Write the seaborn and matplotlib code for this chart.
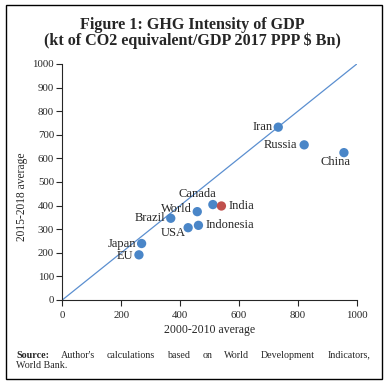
import matplotlib
matplotlib.use("Agg")
import matplotlib.pyplot as plt
import pandas as pd
import seaborn as sns
from matplotlib.patches import Rectangle

# data
countries = ["Iran", "Russia", "China", "Canada", "India", "World", "Brazil",
             "Indonesia", "USA", "Japan", "EU"]
avg_2000_2010 = [733, 821, 956, 511, 540, 458, 368, 462, 427, 269, 260]
avg_2015_2018 = [732, 657, 624, 404, 398, 374, 346, 316, 306, 239, 191]
diag = [0, 1000]
ticks = [0, 100, 200, 300, 400, 500, 600, 700, 800, 900, 1000]
xticks = [0, 200, 400, 600, 800, 1000]

df = pd.DataFrame({"country": countries, "x": avg_2000_2010, "y": avg_2015_2018})
df["grp"] = ["India" if c == "India" else "Other" for c in countries]

sns.set_style("ticks")
plt.rcParams["font.family"] = ["Liberation Serif", "DejaVu Serif"]

fig = plt.figure(figsize=(3.85, 3.85), dpi=100)
ax = fig.add_axes([0.162, 0.221, 0.765, 0.613])

sns.lineplot(x=diag, y=diag, ax=ax, color="#5b8fd0", linewidth=0.9)
sns.scatterplot(data=df, x="x", y="y", hue="grp", ax=ax, s=45, linewidth=0,
                palette={"Other": "#4a86c8", "India": "#c0504d"}, legend=False, zorder=3)

# label offsets (points)
offs = {"Iran": (-4, 0, "right", "center"), "Russia": (-5, 0, "right", "center"),
        "China": (-6, -7, "center", "center"), "Canada": (-11, 3, "center", "bottom"),
        "India": (5, 0, "left", "center"), "World": (-4, 2, "right", "center"),
        "Brazil": (-4, 0, "right", "center"), "Indonesia": (5, 0, "left", "center"),
        "USA": (-2, -4, "right", "center"), "Japan": (-4, 0, "right", "center"),
        "EU": (-4, -1, "right", "center")}
for c, xv, yv in zip(countries, avg_2000_2010, avg_2015_2018):
    dx, dy, ha, va = offs[c]
    ax.annotate(c, (xv, yv), xytext=(dx, dy), textcoords="offset points",
                ha=ha, va=va, fontsize=9)

ax.set_xlim(0, 1000)
ax.set_ylim(0, 1000)
ax.set_xticks(xticks)
ax.set_yticks(ticks)
ax.tick_params(labelsize=7.8, length=4, width=0.8, pad=2)
ax.tick_params(axis="x", pad=4)
ax.set_xlabel("2000-2010 average", fontsize=8.5, labelpad=3)
ax.set_ylabel("")
sns.despine(ax=ax)
for s in ["left", "bottom"]:
    ax.spines[s].set_linewidth(0.8)

fig.text(0.057, 0.49, "2015-2018 average", rotation=90, ha="center", va="center", fontsize=8.3)

fig.text(0.5, 0.935, "Figure 1: GHG Intensity of GDP", ha="center", va="center",
         fontsize=11.6, fontweight="bold")
fig.text(0.5, 0.893, "(kt of CO2 equivalent/GDP 2017 PPP $ Bn)", ha="center", va="center",
         fontsize=11.6, fontweight="bold")

# justified source line
fig.canvas.draw()
r = fig.canvas.get_renderer()
words = [("Source:", "bold")] + [(w, "normal") for w in
         "Author's calculations based on World Development Indicators,".split()]
x0, x1, yline = 16 / 385, 370 / 385, 1 - 355 / 385
objs = [fig.text(0, yline, w, fontsize=7.2, fontweight=fw, va="center") for w, fw in words]
widths = [o.get_window_extent(r).width / fig.bbox.width for o in objs]
gap = (x1 - x0 - sum(widths)) / (len(objs) - 1)
xp = x0
for o, w in zip(objs, widths):
    o.set_x(xp)
    xp += w + gap
fig.text(x0, 1 - 366 / 385, "World Bank.", fontsize=7.2, va="center")

fig.patches.append(Rectangle((6 / 385, 1 - 379 / 385), 376 / 385, 374 / 385,
                             transform=fig.transFigure, fill=False,
                             edgecolor="black", linewidth=1.0))

fig.savefig("out.png", dpi=100)
